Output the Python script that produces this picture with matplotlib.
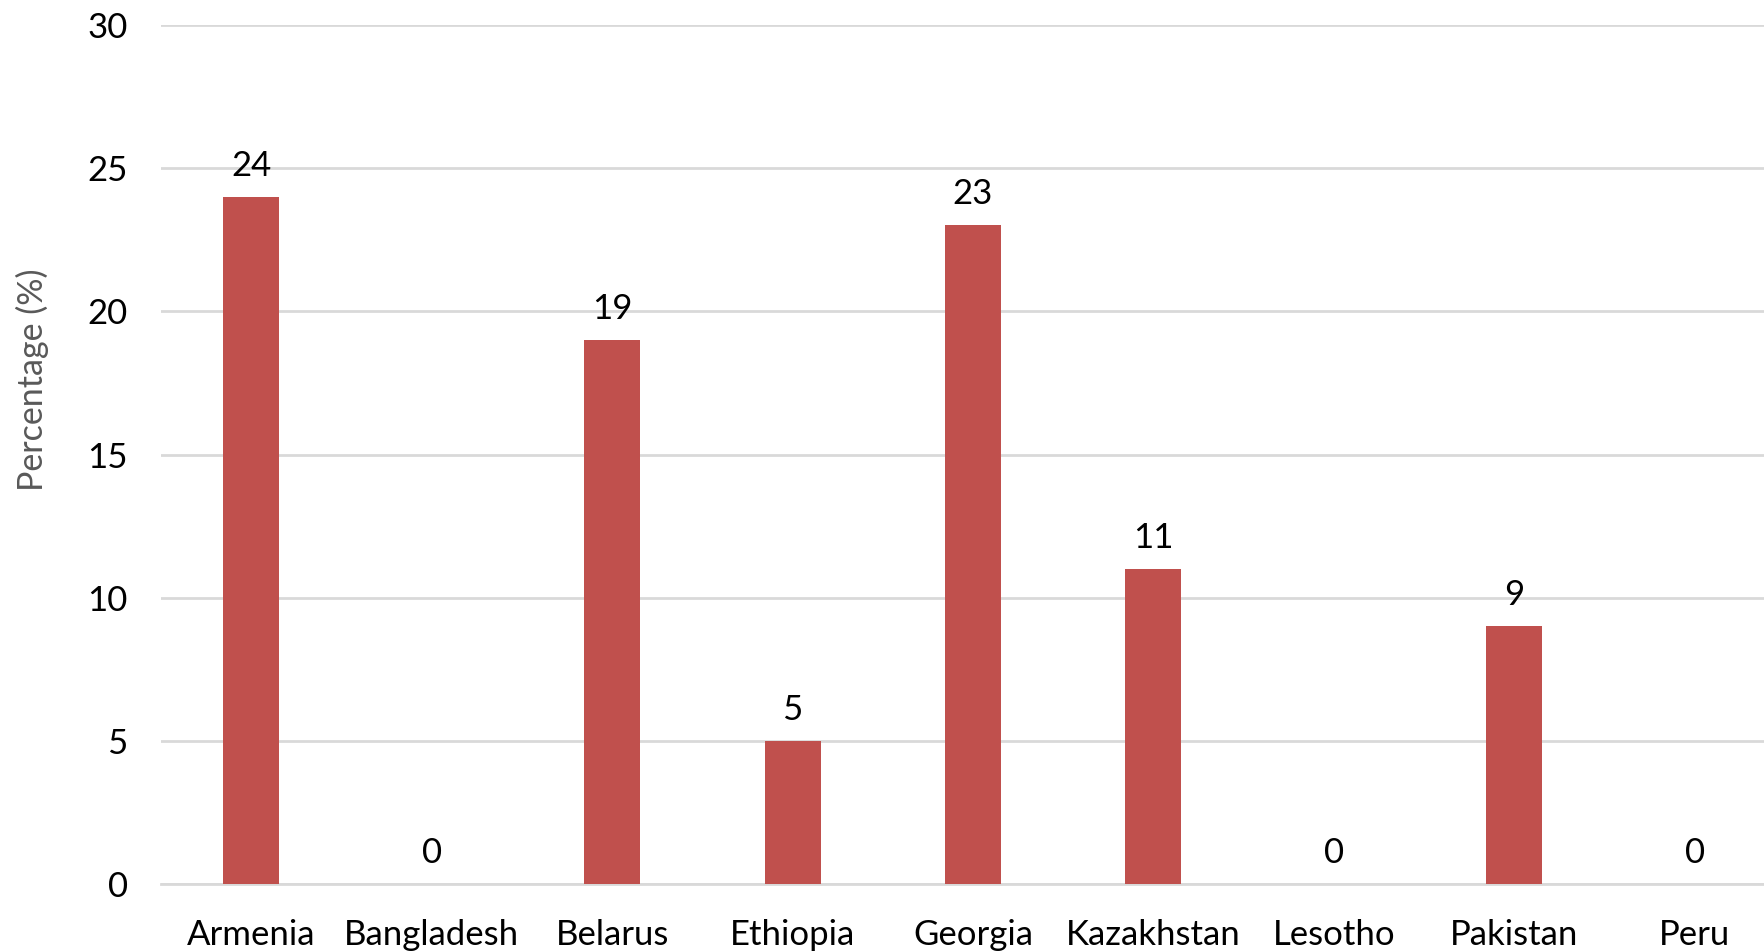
import matplotlib.pyplot as plt
import numpy as np

countries = ["Armenia", "Bangladesh", "Belarus", "Ethiopia", "Georgia",
             "Kazakhstan", "Lesotho", "Pakistan", "Peru"]
percent = [24, 0, 19, 5, 23, 11, 0, 9, 0]
yticks = [0, 5, 10, 15, 20, 25, 30]

plt.rcParams['font.family'] = ['Lato', 'DejaVu Sans']

fig = plt.figure(figsize=(17.65, 9.52), dpi=100)
# plot area runs a little past the right edge of the figure
ax = fig.add_axes([161 / 1765, 1 - 884 / 952, 1624 / 1765, (884 - 25) / 952])

x = np.arange(len(countries))
bars = ax.bar(x, percent, width=0.31, color='#C0504D', zorder=3)

for xi, v in zip(x, percent):
    ax.annotate(str(v), (xi, v), xytext=(0, 11), textcoords='offset points',
                ha='center', va='bottom', fontsize=25, color='black')

ax.set_xlim(-0.5, len(countries) - 0.5)
ax.set_ylim(0, 30)
ax.set_yticks(yticks)
ax.set_xticks(x)
ax.set_xticklabels(countries)
ax.tick_params(axis='both', length=0, labelsize=25, colors='black')
ax.tick_params(axis='y', pad=24)
ax.tick_params(axis='x', pad=25)

ax.grid(axis='y', color='#d9d9d9', linewidth=2, zorder=0)
for s in ['top', 'right', 'left']:
    ax.spines[s].set_visible(False)
ax.spines['bottom'].set_color('#d9d9d9')
ax.spines['bottom'].set_linewidth(2)

ax.set_ylabel("Percentage (%)", fontsize=24.5, color='#595959')
ax.yaxis.set_label_coords(-0.069, 0.587)

fig.savefig("out.png", dpi=100)
